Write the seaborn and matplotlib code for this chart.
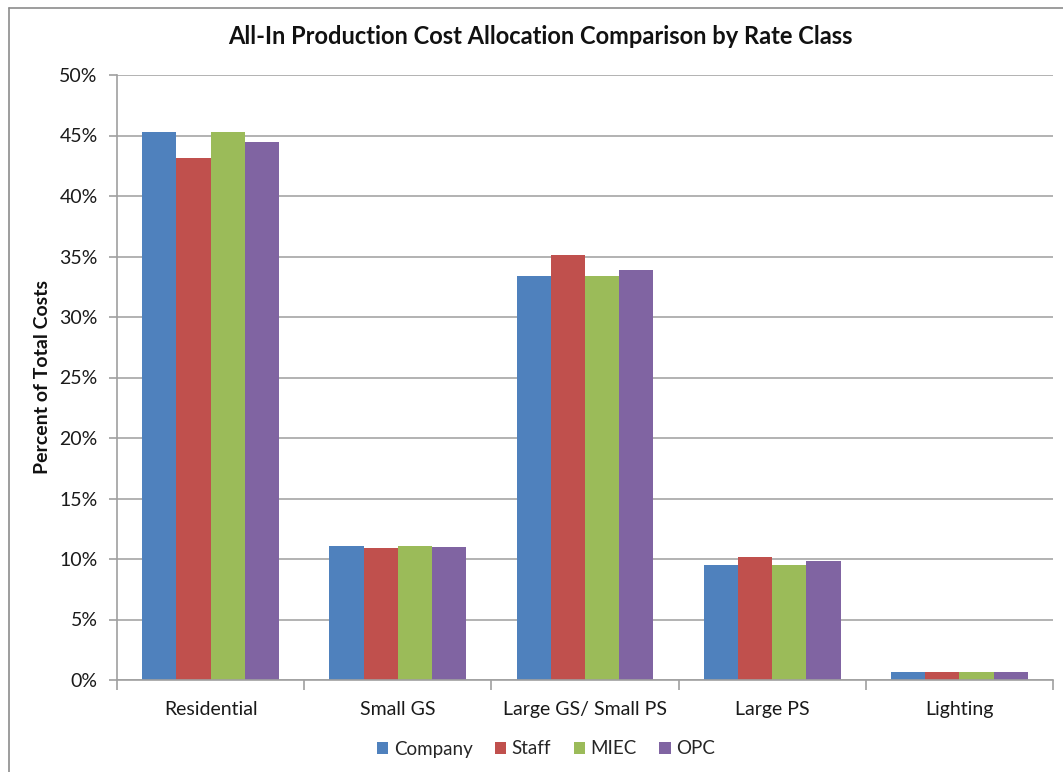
import matplotlib
matplotlib.use("Agg")
import matplotlib.pyplot as plt
import matplotlib.lines as mlines
from matplotlib.ticker import FuncFormatter, MultipleLocator, FixedLocator
import pandas as pd
import seaborn as sns

# Rate classes and the allocation share (percent of total costs) per party
rate_classes = ["Residential", "Small GS", "Large GS/ Small PS", "Large PS", "Lighting"]
company = [45.3, 11.08, 33.38, 9.51, 0.70]
staff = [43.1, 10.88, 35.1, 10.2, 0.70]
miec = [45.3, 11.08, 33.38, 9.51, 0.70]
opc = [44.45, 10.97, 33.85, 9.83, 0.70]
parties = ["Company", "Staff", "MIEC", "OPC"]
colors = ["#4F81BD", "#C0504D", "#9BBB59", "#8064A2"]

rows = []
for party, vals in zip(parties, [company, staff, miec, opc]):
    for rc, v in zip(rate_classes, vals):
        rows.append({"Rate Class": rc, "Party": party, "Share": v})
df = pd.DataFrame(rows)

sns.set_theme(style="white")
plt.rcParams["font.family"] = ["Lato", "DejaVu Sans"]

W, H = 1063, 772
fig = plt.figure(figsize=(W / 100, H / 100), dpi=100)
ax = fig.add_axes([117 / W, 92 / H, (1053 - 117) / W, (680 - 75) / H])

sns.barplot(data=df, x="Rate Class", y="Share", hue="Party", order=rate_classes,
            hue_order=parties, palette=colors, width=0.73, saturation=1,
            linewidth=0, ax=ax, legend=True)

ax.set_ylim(0, 50)
ax.set_xlim(-0.5, len(rate_classes) - 0.5)
ax.yaxis.set_major_locator(MultipleLocator(5))
ax.yaxis.set_major_formatter(FuncFormatter(lambda v, p: f"{v:.0f}%"))
ax.yaxis.grid(True, color="#A6A6A6", linewidth=1.2)
ax.set_axisbelow(True)

for side in ["top", "right"]:
    ax.spines[side].set_visible(False)
for side in ["left", "bottom"]:
    ax.spines[side].set_color("#A0A0A0")
    ax.spines[side].set_linewidth(1.2)

ax.tick_params(axis="y", which="major", direction="out", length=6, color="#A0A0A0",
               width=1.2, left=True, labelsize=14, pad=8, labelcolor="#1a1a1a")
ax.tick_params(axis="x", which="major", length=0, labelsize=14, pad=15, labelcolor="#1a1a1a")
ax.xaxis.set_minor_locator(FixedLocator([i + 0.5 for i in range(-1, len(rate_classes))]))
ax.tick_params(axis="x", which="minor", direction="out", length=7, color="#A0A0A0",
               width=1.2, bottom=True)

ax.set_xlabel("")
ax.set_ylabel("")
fig.text(43 / W, 1 - 377 / H, "Percent of Total Costs", rotation=90, ha="center",
         va="center", fontsize=14, fontweight="bold", color="#111111")

fig.text(540 / W, 1 - 37 / H, "All-In Production Cost Allocation Comparison by Rate Class",
         ha="center", va="center", fontsize=17, fontweight="bold", color="#111111")

handles, labels = ax.get_legend_handles_labels()
ax.legend(handles, labels, loc="center", bbox_to_anchor=(546 / W, 1 - 749 / H),
          bbox_transform=fig.transFigure, ncol=4, frameon=False, fontsize=13.5,
          handlelength=0.6, handleheight=0.6, handletextpad=0.3, columnspacing=1.2)

# Chart-area border along the left and top edges
fig.add_artist(mlines.Line2D([9 / W, 9 / W], [0, 1 - 8 / H],
                             transform=fig.transFigure, color="#8C8C8C", linewidth=1.2))
fig.add_artist(mlines.Line2D([9 / W, 1], [1 - 8 / H, 1 - 8 / H],
                             transform=fig.transFigure, color="#8C8C8C", linewidth=1.2))

fig.savefig("out.png", dpi=100)
